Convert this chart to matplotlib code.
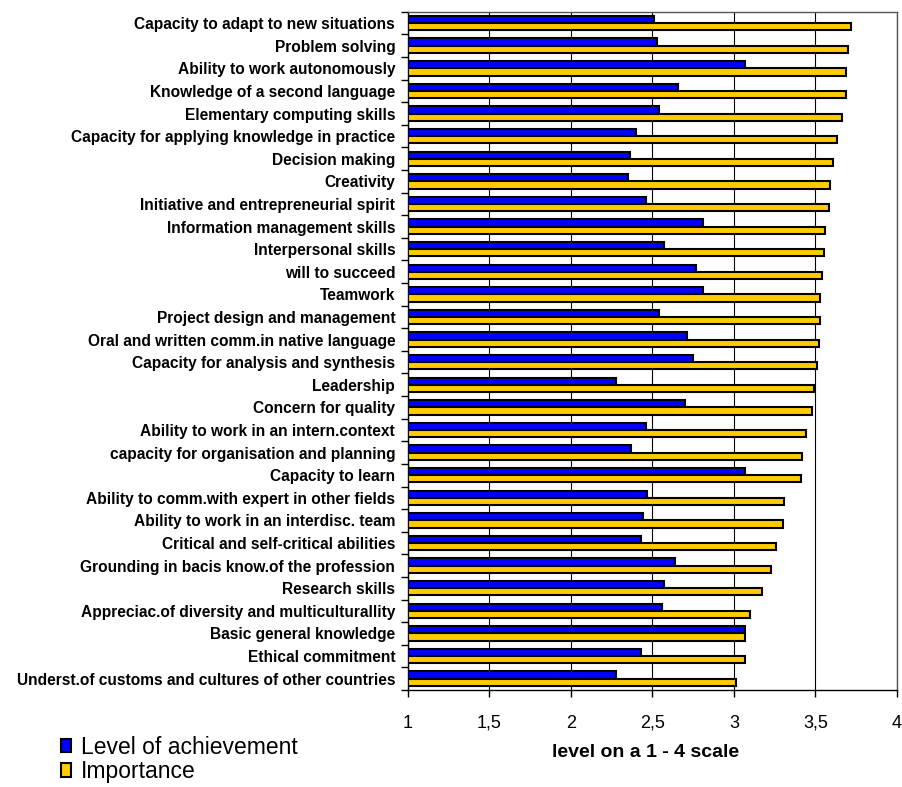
import numpy as np
import matplotlib
matplotlib.use('Agg')
import matplotlib.pyplot as plt
from matplotlib.ticker import FixedLocator, FuncFormatter

plt.rcParams['font.family'] = ['Liberation Sans', 'DejaVu Sans']

# categories, top to bottom
skills = [
    "Capacity to adapt to new situations",
    "Problem solving",
    "Ability to work autonomously",
    "Knowledge of a second language",
    "Elementary computing skills",
    "Capacity for applying knowledge in practice",
    "Decision making",
    "Creativity",
    "Initiative and entrepreneurial spirit",
    "Information management skills",
    "Interpersonal skills",
    "will to succeed",
    "Teamwork",
    "Project design and management",
    "Oral and written comm.in native language",
    "Capacity for analysis and synthesis",
    "Leadership",
    "Concern for quality",
    "Ability to work in an intern.context",
    "capacity for organisation and planning",
    "Capacity to learn",
    "Ability to comm.with expert in other fields",
    "Ability to work in an interdisc. team",
    "Critical and self-critical abilities",
    "Grounding in bacis know.of the profession",
    "Research skills",
    "Appreciac.of diversity and multiculturallity",
    "Basic general knowledge",
    "Ethical commitment",
    "Underst.of customs and cultures of other countries",
]

achievement = [2.51, 2.53, 3.07, 2.66, 2.54, 2.40, 2.36, 2.35, 2.46, 2.81,
               2.57, 2.77, 2.81, 2.54, 2.71, 2.75, 2.28, 2.70, 2.46, 2.37,
               3.07, 2.47, 2.44, 2.43, 2.64, 2.57, 2.56, 3.07, 2.43, 2.28]

importance = [3.72, 3.70, 3.69, 3.69, 3.66, 3.63, 3.61, 3.59, 3.58, 3.56,
              3.55, 3.54, 3.53, 3.53, 3.52, 3.51, 3.49, 3.48, 3.44, 3.42,
              3.41, 3.31, 3.30, 3.26, 3.23, 3.17, 3.10, 3.07, 3.07, 3.01]

xticks = [1, 1.5, 2, 2.5, 3, 3.5, 4]

n = len(skills)
y = np.arange(n)
h = 0.32

fig = plt.figure(figsize=(9.02, 7.87), dpi=100)
ax = fig.add_axes([0.452, 0.1233, 0.5425, 0.8617])

ax.barh(y - h/2, [a - 1 for a in achievement], height=h, left=1, color='#0000FF',
        edgecolor='black', linewidth=1.5, label='Level of achievement', zorder=3)
ax.barh(y + h/2, [v - 1 for v in importance], height=h, left=1, color='#FFCC00',
        edgecolor='black', linewidth=1.5, label='Importance', zorder=3)

ax.set_xlim(1, 4)
ax.set_ylim(n - 0.5, -0.5)
ax.set_xticks(xticks)
ax.xaxis.set_major_formatter(FuncFormatter(lambda v, p: ('%g' % v).replace('.', ',')))
ax.grid(axis='x', color='black', linewidth=0.8, zorder=0)

ax.set_yticks(y)
ax.set_yticklabels(skills, fontsize=11.2, fontweight='bold')
ax.yaxis.set_minor_locator(FixedLocator(np.arange(n + 1) - 0.5))
ax.tick_params(axis='y', which='major', length=0, pad=9)
ax.tick_params(axis='y', which='minor', length=5, width=1, direction='out')
ax.tick_params(axis='x', length=5, width=1, direction='out', labelsize=13, pad=13)

for s in ax.spines.values():
    s.set_linewidth(1)
    s.set_color('black')
ax.spines['top'].set_color('#555555')
ax.spines['right'].set_color('#555555')

ax.set_xlabel('level on a 1 - 4 scale', fontsize=14, fontweight='bold')
ax.xaxis.set_label_coords(0.486, -0.08)

fig.legend(loc='upper left', bbox_to_anchor=(61/902, 1 - 736/787), frameon=False,
           fontsize=16.5, handlelength=0.42, handleheight=0.5, handletextpad=0.45,
           labelspacing=0.05, borderpad=0, borderaxespad=0)

fig.savefig('out.png', dpi=100)
